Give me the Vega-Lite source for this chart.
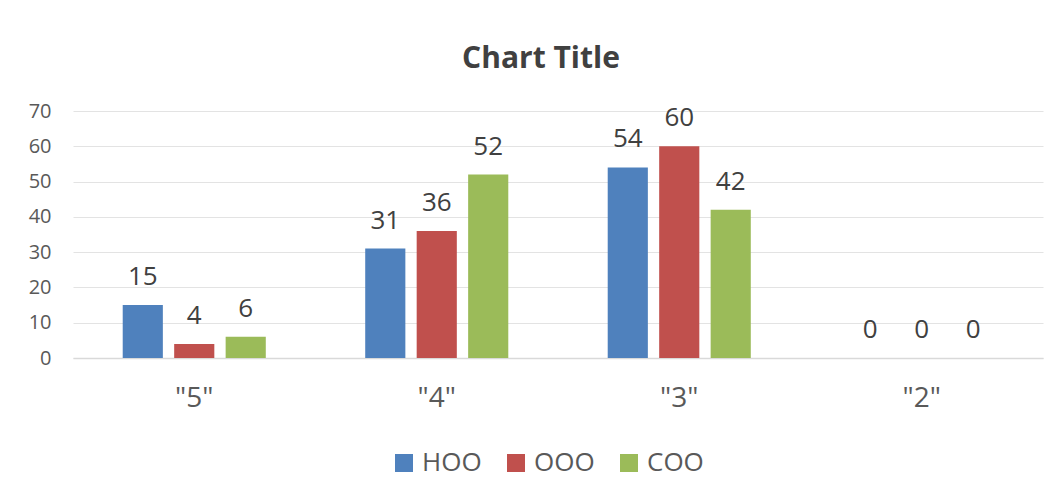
{
  "$schema": "https://vega.github.io/schema/vega-lite/v6.json",
  "width": 970,
  "height": 247,
  "autosize": {"type": "none"},
  "padding": {"left": 73, "top": 111, "right": 17, "bottom": 142},
  "background": "white",
  "title": {
    "text": "Chart Title",
    "font": "Open Sans",
    "fontSize": 30,
    "fontWeight": "bold",
    "color": "#404040",
    "anchor": "middle",
    "frame": "group",
    "dx": -17,
    "offset": 27
  },
  "data": {
    "values": [
      {"cat": "\"5\"", "series": "HOO", "value": 15},
      {"cat": "\"5\"", "series": "OOO", "value": 4},
      {"cat": "\"5\"", "series": "COO", "value": 6},
      {"cat": "\"4\"", "series": "HOO", "value": 31},
      {"cat": "\"4\"", "series": "OOO", "value": 36},
      {"cat": "\"4\"", "series": "COO", "value": 52},
      {"cat": "\"3\"", "series": "HOO", "value": 54},
      {"cat": "\"3\"", "series": "OOO", "value": 60},
      {"cat": "\"3\"", "series": "COO", "value": 42},
      {"cat": "\"2\"", "series": "HOO", "value": 0},
      {"cat": "\"2\"", "series": "OOO", "value": 0},
      {"cat": "\"2\"", "series": "COO", "value": 0}
    ]
  },
  "encoding": {
    "x": {
      "field": "cat",
      "type": "nominal",
      "sort": null,
      "scale": {"paddingInner": 0.41, "paddingOuter": 0.205},
      "axis": {
        "title": null,
        "labelAngle": 0,
        "labelFont": "Open Sans",
        "labelFontSize": 28,
        "labelColor": "#595959",
        "labelPadding": 26,
        "ticks": false,
        "domainColor": "#d9d9d9",
        "domainWidth": 1.5
      }
    },
    "xOffset": {
      "field": "series",
      "type": "nominal",
      "sort": ["HOO", "OOO", "COO"],
      "scale": {"paddingInner": 0.22, "paddingOuter": 0}
    },
    "y": {
      "field": "value",
      "type": "quantitative",
      "scale": {"domain": [0, 70]},
      "axis": {
        "title": null,
        "values": [0, 10, 20, 30, 40, 50, 60, 70],
        "labelFont": "Open Sans",
        "labelFontSize": 20,
        "labelColor": "#595959",
        "labelPadding": 22,
        "ticks": false,
        "domain": false,
        "gridColor": "#e3e3e3",
        "gridWidth": 1
      }
    }
  },
  "layer": [
    {
      "mark": {"type": "bar"},
      "encoding": {
        "color": {
          "field": "series",
          "type": "nominal",
          "sort": ["HOO", "OOO", "COO"],
          "scale": {"domain": ["HOO", "OOO", "COO"], "range": ["#4F81BD", "#C0504D", "#9BBB59"]},
          "legend": {
            "title": null,
            "orient": "none",
            "legendX": 318,
            "legendY": 339,
            "direction": "horizontal",
            "symbolType": "square",
            "symbolSize": 324,
            "symbolStrokeWidth": 0,
            "labelFont": "Open Sans",
            "labelFontSize": 26,
            "labelColor": "#595959",
            "columnPadding": 21,
            "labelOffset": 5
          }
        }
      }
    },
    {
      "mark": {"type": "text", "baseline": "alphabetic", "dy": -20, "font": "Open Sans", "fontSize": 26, "color": "#404040"},
      "encoding": {
        "text": {"field": "value", "type": "quantitative"}
      }
    }
  ],
  "config": {
    "view": {"stroke": null}
  }
}
